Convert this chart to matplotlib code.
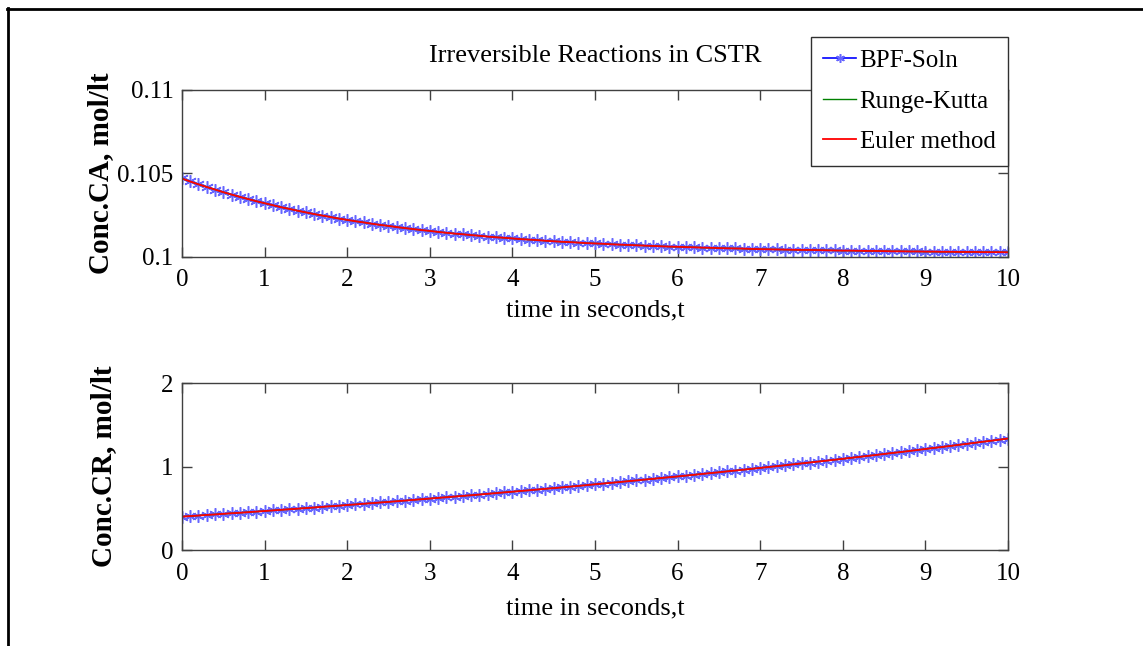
import matplotlib
matplotlib.use("Agg")
import matplotlib.pyplot as plt
from matplotlib.lines import Line2D
import numpy as np

plt.rcParams['font.family'] = ['Liberation Serif', 'DejaVu Serif']

# time grid, 0.1 s steps
t = np.round(np.arange(0, 101) * 0.1, 1)

# concentration of A (mol/lt)
conc_ca = [
    0.10470, 0.10452, 0.10435, 0.10419, 0.10404, 0.10388, 0.10374, 0.10360, 0.10347, 0.10334,
    0.10322, 0.10310, 0.10298, 0.10288, 0.10277, 0.10267, 0.10257, 0.10248, 0.10239, 0.10230,
    0.10222, 0.10214, 0.10207, 0.10199, 0.10192, 0.10186, 0.10179, 0.10173, 0.10167, 0.10161,
    0.10156, 0.10150, 0.10145, 0.10140, 0.10136, 0.10131, 0.10127, 0.10122, 0.10118, 0.10115,
    0.10111, 0.10107, 0.10104, 0.10101, 0.10097, 0.10094, 0.10091, 0.10089, 0.10086, 0.10083,
    0.10081, 0.10079, 0.10076, 0.10074, 0.10072, 0.10070, 0.10068, 0.10066, 0.10064, 0.10062,
    0.10061, 0.10059, 0.10058, 0.10056, 0.10055, 0.10053, 0.10052, 0.10051, 0.10050, 0.10048,
    0.10047, 0.10046, 0.10045, 0.10044, 0.10043, 0.10042, 0.10042, 0.10041, 0.10040, 0.10039,
    0.10038, 0.10038, 0.10037, 0.10036, 0.10036, 0.10035, 0.10034, 0.10034, 0.10033, 0.10033,
    0.10032, 0.10032, 0.10031, 0.10031, 0.10030, 0.10030, 0.10030, 0.10029, 0.10029, 0.10029,
    0.10028,
]

# concentration of R (mol/lt)
conc_cr = [
    0.400, 0.406, 0.413, 0.420, 0.426, 0.433, 0.440, 0.446, 0.453, 0.460,
    0.467, 0.474, 0.481, 0.488, 0.495, 0.502, 0.509, 0.517, 0.524, 0.531,
    0.539, 0.546, 0.554, 0.561, 0.569, 0.576, 0.584, 0.592, 0.600, 0.608,
    0.616, 0.624, 0.632, 0.640, 0.648, 0.656, 0.664, 0.673, 0.681, 0.690,
    0.698, 0.707, 0.715, 0.724, 0.733, 0.741, 0.750, 0.759, 0.768, 0.777,
    0.787, 0.796, 0.805, 0.814, 0.824, 0.833, 0.843, 0.852, 0.862, 0.872,
    0.881, 0.891, 0.901, 0.911, 0.921, 0.931, 0.942, 0.952, 0.962, 0.973,
    0.983, 0.994, 1.004, 1.015, 1.026, 1.037, 1.048, 1.059, 1.070, 1.081,
    1.092, 1.104, 1.115, 1.127, 1.138, 1.150, 1.162, 1.173, 1.185, 1.197,
    1.210, 1.222, 1.234, 1.246, 1.259, 1.271, 1.284, 1.297, 1.309, 1.322,
    1.335,
]

x_ticks = list(range(0, 11))
ca_ticks = [0.1, 0.105, 0.11]
ca_ticklabels = ["0.1", "0.105", "0.11"]
cr_ticks = [0, 1, 2]

# six-armed asterisk marker
asterisk = (6, 2, 0)

fig = plt.figure(figsize=(11.43, 6.46), dpi=100)
ax1 = fig.add_axes([0.1592, 0.6022, 0.7227, 0.2585])
ax2 = fig.add_axes([0.1592, 0.1486, 0.7227, 0.2585])


def draw(ax, y):
    ax.plot(t, y, color=(0, 0, 1), marker=asterisk, markersize=9, mew=1.1,
            markeredgecolor=(0.4, 0.4, 1), linewidth=1.2, label="BPF-Soln")
    ax.plot(t, y, color=(0, 0.5, 0), linewidth=1, label="Runge-Kutta")
    ax.plot(t, y, color=(1, 0, 0), linewidth=1.3, label="Euler method")
    ax.set_xlim(0, 10)
    ax.set_xticks(x_ticks)
    ax.tick_params(direction='in', length=7, width=1, top=True, right=True,
                   labelsize=18, colors='#404040', labelcolor='black')
    ax.tick_params(axis='x', pad=9)
    ax.tick_params(axis='y', pad=6)
    for s in ax.spines.values():
        s.set_color('#404040')
        s.set_linewidth(1)
    ax.set_xlabel("time in seconds,t", fontsize=19, labelpad=6)


draw(ax1, conc_ca)
ax1.set_ylim(0.1, 0.11)
ax1.set_yticks(ca_ticks)
ax1.set_yticklabels(ca_ticklabels)
ax1.set_ylabel("Conc.CA, mol/lt", fontsize=21, fontweight='bold')
ax1.yaxis.set_label_coords(-0.082, 0.5)
ax1.set_title("Irreversible Reactions in CSTR", fontsize=19, pad=20)

draw(ax2, conc_cr)
ax2.set_ylim(0, 2)
ax2.set_yticks(cr_ticks)
ax2.set_ylabel("Conc.CR, mol/lt", fontsize=21, fontweight='bold')
ax2.yaxis.set_label_coords(-0.078, 0.5)
ax2.xaxis.labelpad = 9

leg = ax1.legend(loc='upper right', bbox_to_anchor=(1.0, 1.317),
                 borderaxespad=0, fontsize=18, fancybox=False, framealpha=1,
                 edgecolor='#303030', handlelength=1.3, handletextpad=0.15,
                 labelspacing=0.72, borderpad=0.5, markerscale=0.7)
leg.get_frame().set_linewidth(1)

# frame lines along the top and left edge of the figure
fig.add_artist(Line2D([7 / 1143, 1], [1 - 8.5 / 646, 1 - 8.5 / 646],
                      transform=fig.transFigure, color='black', linewidth=2))
fig.add_artist(Line2D([7.5 / 1143, 7.5 / 1143], [0, 1 - 8 / 646],
                      transform=fig.transFigure, color='black', linewidth=2))

fig.savefig("out.png", dpi=100)
